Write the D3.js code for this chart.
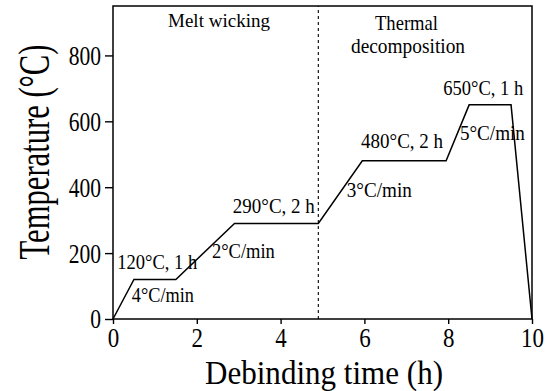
<!DOCTYPE html>
<html>
<head>
<meta charset="utf-8">
<script src="https://cdn.jsdelivr.net/npm/d3@7"></script>
<style>
  html, body { margin: 0; padding: 0; background: #fff; }
  svg { display: block; }
  text { font-family: "Liberation Serif", "Times New Roman", serif; fill: #000; }
</style>
</head>
<body>
<svg id="chart" width="550" height="391"></svg>
<script>
// Debinding heating schedule: time (h) vs furnace temperature (°C)
const timeH = [0, 0.5, 1.5, 2.9, 4.9, 5.95, 7.95, 8.5, 9.5, 10];
const tempC = [0, 120, 120, 290, 290, 480, 480, 650, 650, 0];

const xTicks = [0, 2, 4, 6, 8, 10];
const yTicks = [0, 200, 400, 600, 800];

// Boundary between the two debinding stages (h)
const stageBoundary = 4.9;
const stageNames = ["Melt wicking", "Thermal", "decomposition"];

const holdLabels = ["120°C, 1 h", "290°C, 2 h", "480°C, 2 h", "650°C, 1 h"];
const rampLabels = ["4°C/min", "2°C/min", "3°C/min", "5°C/min"];

const xTitle = "Debinding time (h)";
const yTitle = "Temperature (°C)";

const svg = d3.select("#chart");
const plotL = 113, plotR = 532, plotT = 6, plotB = 319;

const x = d3.scaleLinear().domain([0, 10]).range([plotL, plotR]);
const y = d3.scaleLinear().domain([0, 950]).range([plotB, plotT]);

// Squeeze a text element horizontally to a target width (narrow serif look)
function squeeze(sel, w) {
  sel.attr("lengthAdjust", "spacingAndGlyphs").attr("textLength", w);
}
function squeezeBy(sel, f) {
  sel.each(function () {
    const n = this.getComputedTextLength();
    d3.select(this).attr("lengthAdjust", "spacingAndGlyphs").attr("textLength", n * f);
  });
}

// Axes
const gx = svg.append("g").attr("transform", `translate(0,${plotB})`)
  .call(d3.axisBottom(x).tickValues(xTicks).tickSize(5).tickPadding(3).tickFormat(d3.format("d")));
const gy = svg.append("g").attr("transform", `translate(${plotL},0)`)
  .call(d3.axisLeft(y).tickValues(yTicks).tickSize(8).tickPadding(4).tickFormat(d3.format("d")));

[gx, gy].forEach(g => {
  g.select(".domain").remove();
  g.selectAll(".tick line").attr("stroke", "#000").attr("stroke-width", 1.4);
  g.selectAll(".tick text").style("font-family", '"Liberation Serif", serif').style("font-size", "28px").attr("fill", "#000");
});
squeezeBy(gx.selectAll(".tick text"), 0.82);
squeezeBy(gy.selectAll(".tick text"), 0.77);

// Plot frame
svg.append("rect")
  .attr("x", plotL).attr("y", plotT)
  .attr("width", plotR - plotL).attr("height", plotB - plotT)
  .attr("fill", "none").attr("stroke", "#000").attr("stroke-width", 1.5);

// Stage divider
svg.append("line")
  .attr("x1", x(stageBoundary)).attr("x2", x(stageBoundary))
  .attr("y1", plotB).attr("y2", plotT)
  .attr("stroke", "#000").attr("stroke-width", 1.1)
  .attr("stroke-dasharray", "3,3");

// Heating profile
const pts = timeH.map((t, i) => [t, tempC[i]]);
svg.append("path")
  .datum(pts)
  .attr("d", d3.line().x(d => x(d[0])).y(d => y(d[1])))
  .attr("fill", "none").attr("stroke", "#000").attr("stroke-width", 1.5)
  .attr("stroke-linejoin", "miter");

// Stage names
const stageLayout = [
  { px: 168, py: 27, size: 18, w: 102 },
  { px: 375, py: 30, size: 22, w: 63 },
  { px: 351, py: 53, size: 22, w: 114 }
];
stageNames.forEach((s, i) => {
  const L = stageLayout[i];
  svg.append("text").attr("x", L.px).attr("y", L.py)
    .style("font-size", L.size + "px").text(s).call(squeeze, L.w);
});

// Hold and ramp annotations (anchored in data coordinates)
const holdPos = [[0.1, 152, 80], [2.86, 322, 82], [5.92, 519, 82], [7.88, 680, 80]];
const rampPos = [[0.45, 52, 62], [2.36, 185, 63], [5.58, 370, 65], [8.28, 543, 65]];
function annotate(labels, pos) {
  labels.forEach((s, i) => {
    const [t, c, w] = pos[i];
    svg.append("text").attr("x", x(t)).attr("y", y(c))
      .style("font-size", "22px").text(s).call(squeeze, w);
  });
}
annotate(holdLabels, holdPos);
annotate(rampLabels, rampPos);

// Axis titles
svg.append("text")
  .attr("x", 324).attr("y", 384)
  .attr("text-anchor", "middle")
  .style("font-size", "33px").text(xTitle).call(squeeze, 238);

svg.append("text")
  .attr("transform", "translate(49,152) rotate(-90)")
  .attr("text-anchor", "middle")
  .style("font-size", "44px").text(yTitle).call(squeeze, 215);
</script>
</body>
</html>
